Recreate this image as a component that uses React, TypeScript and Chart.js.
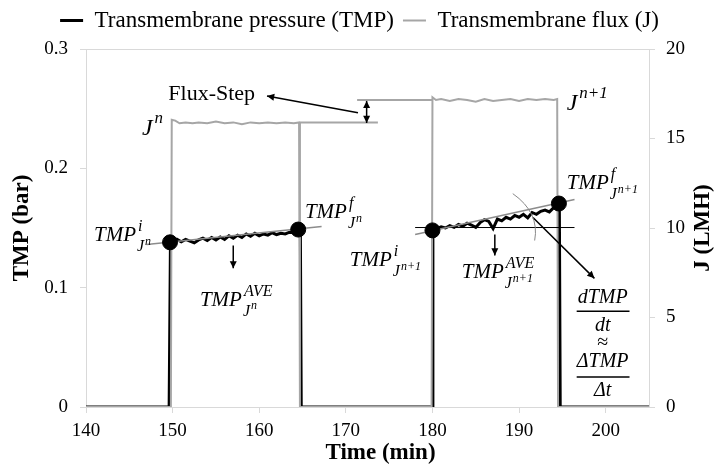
import React, { useEffect, useRef } from 'react';
import { Chart, registerables } from 'chart.js';

Chart.register(...registerables);

// ---------- data ----------
const xTickValues = [140, 150, 160, 170, 180, 190, 200];
const tmpTickValues = [0, 0.1, 0.2, 0.3];
const fluxTickValues = [0, 5, 10, 15, 20];

const tmpTime = [
  140, 149.6, 149.75,
  150.0, 150.5, 151.0, 151.5, 152.0, 152.5, 153.0, 153.5, 154.0, 154.5,
  155.0, 155.5, 156.0, 156.5, 157.0, 157.5, 158.0, 158.5, 159.0, 159.5,
  160.0, 160.5, 161.0, 161.5, 162.0, 162.5, 163.0, 163.5, 164.0, 164.5,
  164.75, 164.85,
  179.95, 180.05,
  180.5, 181.0, 181.5, 182.0, 182.5, 183.0, 183.5, 184.0, 184.5, 185.0,
  185.5, 186.0, 186.5, 187.0, 187.5, 188.0, 188.5, 189.0, 189.5, 190.0,
  190.5, 191.0, 191.5, 192.0, 192.5, 193.0, 193.5, 194.0, 194.5,
  194.65, 194.75, 205,
];
const tmpValues = [
  0, 0, 0.1385,
  0.138, 0.1405, 0.1385, 0.1405, 0.139, 0.1375, 0.14, 0.1415, 0.1395, 0.142,
  0.14, 0.1425, 0.1405, 0.1435, 0.1415, 0.144, 0.142, 0.145, 0.143, 0.1455,
  0.1435, 0.145, 0.144, 0.146, 0.1445, 0.1455, 0.145, 0.1465, 0.146, 0.1475,
  0.148, 0,
  0, 0.148,
  0.1495, 0.151, 0.15, 0.152, 0.1505, 0.153, 0.1515, 0.154, 0.1525, 0.1505,
  0.1545, 0.157, 0.1555, 0.1495, 0.1575, 0.156, 0.159, 0.1575, 0.1605, 0.159,
  0.1615, 0.1585, 0.163, 0.1615, 0.164, 0.165, 0.1635, 0.167, 0.17,
  0.1705, 0, 0,
];

const fluxTime = [
  140, 149.8, 149.9, 150.3, 150.8, 151.5, 152.3, 153.0, 154.0, 155.0, 156.0,
  157.0, 158.0, 159.0, 160.0, 161.0, 162.0, 163.0, 164.0, 164.6, 164.7,
  179.9, 180.0, 180.4, 181.0, 182.0, 183.0, 184.0, 185.0, 186.0, 187.0,
  188.0, 189.0, 190.0, 191.0, 192.0, 193.0, 194.0, 194.4, 194.5, 205,
];
const fluxValues = [
  0, 0, 16.05, 16.0, 15.85, 15.9, 15.85, 15.9, 15.85, 15.95, 15.85,
  15.9, 15.8, 15.9, 15.85, 15.9, 15.85, 15.9, 15.85, 15.9, 0,
  0, 17.3, 17.15, 17.2, 17.1, 17.2, 17.15, 17.05, 17.2, 17.1,
  17.15, 17.2, 17.1, 17.2, 17.15, 17.2, 17.15, 17.2, 0, 0,
];

const markerTime = [149.7, 164.5, 180.0, 194.6];
const markerTmp = [0.138, 0.1487, 0.148, 0.1705];

const trend1Time = [147.0, 167.2];
const trend1Tmp = [0.1362, 0.1512];
const trend2Time = [178.0, 196.4];
const trend2Tmp = [0.1446, 0.1738];
const levelTime = [178.0, 196.4];
const levelTmp = [0.1504, 0.1504];
const fluxRef1Time = [164.7, 173.7];
const fluxRef1 = [15.9, 15.9];
const fluxRef2Time = [171.3, 180.0];
const fluxRef2 = [17.15, 17.15];

// annotation anchors (x in min, y in bar)
const tmpLabels = [
  { x: 140.92, y: 0.1437, sup: 'i', subSup: 'n' },
  { x: 165.27, y: 0.1629, sup: 'f', subSup: 'n' },
  { x: 153.15, y: 0.0894, sup: 'AVE', subSup: 'n' },
  { x: 170.46, y: 0.1228, sup: 'i', subSup: 'n+1' },
  { x: 183.38, y: 0.1128, sup: 'AVE', subSup: 'n+1' },
  { x: 195.5, y: 0.1872, sup: 'f', subSup: 'n+1' },
];
const jLabels = [
  { x: 146.46, y: 0.2331, sup: 'n' },
  { x: 195.5, y: 0.254, sup: 'n+1' },
];

const SERIF = '"Liberation Serif", "Times New Roman", serif';
const AXIS = '#d9d9d9';

const pts = (xs: number[], ys: number[]) => xs.map((x, i) => ({ x, y: ys[i] }));

function arrowHead(ctx: CanvasRenderingContext2D, x1: number, y1: number, x2: number, y2: number, size: number) {
  const a = Math.atan2(y2 - y1, x2 - x1);
  ctx.beginPath();
  ctx.moveTo(x2, y2);
  ctx.lineTo(x2 - size * Math.cos(a - 0.45), y2 - size * Math.sin(a - 0.45));
  ctx.lineTo(x2 - size * Math.cos(a + 0.45), y2 - size * Math.sin(a + 0.45));
  ctx.closePath();
  ctx.fill();
}

function arrow(ctx: CanvasRenderingContext2D, x1: number, y1: number, x2: number, y2: number, both = false) {
  ctx.beginPath();
  ctx.moveTo(x1, y1);
  ctx.lineTo(x2, y2);
  ctx.stroke();
  arrowHead(ctx, x1, y1, x2, y2, 8);
  if (both) arrowHead(ctx, x2, y2, x1, y1, 8);
}

const annotationPlugin = {
  id: 'annotations',
  afterDatasetsDraw(chart: any) {
    const ctx: CanvasRenderingContext2D = chart.ctx;
    const xs = chart.scales.x;
    const ys = chart.scales.y;
    const X = (v: number) => xs.getPixelForValue(v);
    const Y = (v: number) => ys.getPixelForValue(v);
    ctx.save();
    ctx.fillStyle = '#000';
    ctx.strokeStyle = '#000';
    ctx.lineWidth = 1.5;
    ctx.textBaseline = 'middle';
    ctx.textAlign = 'left';

    // Flux-Step
    ctx.font = `22px ${SERIF}`;
    ctx.fillText('Flux-Step', X(149.5), Y(0.2624));
    arrow(ctx, X(171.4), Y(0.2465), X(160.9), Y(0.2607));
    arrow(ctx, X(172.4), Y(0.2565), X(172.4), Y(0.238), true);

    // down arrows
    arrow(ctx, X(157.0), Y(0.1354), X(157.0), Y(0.1162));
    arrow(ctx, X(187.2), Y(0.1446), X(187.2), Y(0.127));
    // slope arrow
    arrow(ctx, X(191.6), Y(0.1588), X(198.7), Y(0.1078));

    // arc
    ctx.strokeStyle = '#888';
    ctx.lineWidth = 1;
    ctx.beginPath();
    ctx.moveTo(X(189.27), Y(0.1788));
    ctx.quadraticCurveTo(X(192.4), Y(0.1629), X(191.8), Y(0.1395));
    ctx.stroke();
    ctx.strokeStyle = '#000';

    // J labels
    jLabels.forEach((l) => {
      const px = X(l.x), py = Y(l.y);
      ctx.font = `italic 24px ${SERIF}`;
      ctx.fillText('J', px, py);
      const w = ctx.measureText('J').width;
      ctx.font = `italic 17px ${SERIF}`;
      ctx.fillText(l.sup, px + w + 2, py - 10);
    });

    // TMP labels
    tmpLabels.forEach((l) => {
      const px = X(l.x), py = Y(l.y);
      ctx.font = `italic 21px ${SERIF}`;
      ctx.fillText('TMP', px, py);
      const w = ctx.measureText('TMP').width;
      ctx.font = `italic 16px ${SERIF}`;
      ctx.fillText(l.sup, px + w + 2, py - 9);
      ctx.fillText('J', px + w + 1, py + 11);
      const wj = ctx.measureText('J').width;
      ctx.font = `italic 12px ${SERIF}`;
      ctx.fillText(l.subSup, px + w + wj + 2, py + 6);
    });

    // fraction
    const cx = X(199.65);
    ctx.textAlign = 'center';
    ctx.font = `italic 20px ${SERIF}`;
    ctx.fillText('dTMP', cx, Y(0.0919));
    ctx.fillText('dt', cx, Y(0.0677));
    ctx.fillText('\u0394TMP', cx, Y(0.0376));
    ctx.fillText('\u0394t', cx, Y(0.0134));
    ctx.font = `20px ${SERIF}`;
    ctx.fillText('\u2248', cx, Y(0.0535));
    ctx.lineWidth = 1.5;
    [0.0802, 0.0251].forEach((v) => {
      ctx.beginPath();
      ctx.moveTo(X(196.65), Y(v));
      ctx.lineTo(X(202.75), Y(v));
      ctx.stroke();
    });

    ctx.restore();
  },
  afterDraw(chart: any) {
    const ctx: CanvasRenderingContext2D = chart.ctx;
    const a = chart.chartArea;
    ctx.save();
    ctx.font = `bold 23px ${SERIF}`;
    ctx.fillStyle = '#000';
    ctx.textAlign = 'center';
    ctx.textBaseline = 'middle';
    // x-axis title (offset to the right as in the reference)
    ctx.fillText('Time (min)', (a.left + a.right) / 2 + 13, 453);
    // right axis title, reading bottom to top
    ctx.translate(703, (a.top + a.bottom) / 2);
    ctx.rotate(-Math.PI / 2);
    ctx.fillText('J (LMH)', 0, 0);
    ctx.restore();
  },
};

export default function App() {
  const ref = useRef<HTMLCanvasElement>(null);

  useEffect(() => {
    document.body.style.margin = '0';
    const canvas = ref.current;
    if (!canvas) return;
    const gridOpts = { drawOnChartArea: false, drawTicks: true, tickLength: 6, color: AXIS };
    const chart = new Chart(canvas, {
      type: 'line',
      data: {
        datasets: [
          {
            label: 'Transmembrane pressure (TMP)',
            data: pts(tmpTime, tmpValues),
            borderColor: '#000',
            backgroundColor: '#000',
            borderWidth: 3,
            pointRadius: 0,
            yAxisID: 'y',
            order: 5,
          },
          {
            label: 'Transmembrane flux (J)',
            data: pts(fluxTime, fluxValues),
            borderColor: '#a6a6a6',
            backgroundColor: '#a6a6a6',
            borderWidth: 2,
            pointRadius: 0,
            yAxisID: 'y2',
            order: 4,
          },
          {
            label: 'flux ref n',
            data: pts(fluxRef1Time, fluxRef1),
            borderColor: '#a6a6a6',
            borderWidth: 2,
            pointRadius: 0,
            yAxisID: 'y2',
            order: 4,
          },
          {
            label: 'flux ref n+1',
            data: pts(fluxRef2Time, fluxRef2),
            borderColor: '#a6a6a6',
            borderWidth: 2,
            pointRadius: 0,
            yAxisID: 'y2',
            order: 4,
          },
          {
            label: 'trend n',
            data: pts(trend1Time, trend1Tmp),
            borderColor: '#8c8c8c',
            borderWidth: 1.5,
            pointRadius: 0,
            yAxisID: 'y',
            order: 3,
          },
          {
            label: 'trend n+1',
            data: pts(trend2Time, trend2Tmp),
            borderColor: '#8c8c8c',
            borderWidth: 1.5,
            pointRadius: 0,
            yAxisID: 'y',
            order: 3,
          },
          {
            label: 'level',
            data: pts(levelTime, levelTmp),
            borderColor: '#000',
            borderWidth: 1,
            pointRadius: 0,
            yAxisID: 'y',
            order: 3,
          },
          {
            label: 'markers',
            data: pts(markerTime, markerTmp),
            showLine: false,
            pointRadius: 7.5,
            pointBackgroundColor: '#000',
            pointBorderColor: '#000',
            yAxisID: 'y',
            order: 0,
          },
        ],
      },
      options: {
        animation: false,
        responsive: true,
        maintainAspectRatio: false,
        devicePixelRatio: 1,
        layout: { padding: 0 },
        plugins: {
          tooltip: { enabled: false },
          legend: {
            display: true,
            position: 'top',
            labels: {
              usePointStyle: true,
              pointStyle: 'line',
              pointStyleWidth: 23,
              padding: 9,
              color: '#000',
              font: { family: SERIF, size: 23 },
              filter: (item: any) => item.datasetIndex < 2,
              sort: (a: any, b: any) => a.datasetIndex - b.datasetIndex,
            },
          },
        },
        scales: {
          x: {
            type: 'linear',
            position: 'bottom',
            min: 140,
            max: 205,
            afterBuildTicks: (s: any) => {
              s.ticks = xTickValues.map((v) => ({ value: v }));
            },
            afterFit: (s: any) => {
              s.height = 63;
            },
            ticks: { color: '#000', font: { family: SERIF, size: 19 }, padding: 7 },
            grid: gridOpts,
            border: { color: AXIS },
            title: { display: false },
          },
          xTop: {
            type: 'linear',
            position: 'top',
            display: true,
            afterFit: (s: any) => {
              s.height = 7;
            },
            ticks: { display: false },
            grid: { drawOnChartArea: false, drawTicks: false, color: AXIS },
            border: { color: AXIS },
          },
          y: {
            type: 'linear',
            position: 'left',
            min: 0,
            max: 0.3,
            afterBuildTicks: (s: any) => {
              s.ticks = tmpTickValues.map((v) => ({ value: v }));
            },
            afterFit: (s: any) => {
              s.width = 86;
            },
            ticks: {
              color: '#000',
              font: { family: SERIF, size: 19 },
              padding: 12,
              callback: (v: any) => String(Math.round(Number(v) * 10) / 10),
            },
            grid: gridOpts,
            border: { color: AXIS },
            title: {
              display: true,
              text: 'TMP (bar)',
              color: '#000',
              font: { family: SERIF, size: 23, weight: 'bold' },
              padding: { top: 8, bottom: 0 },
            },
          },
          y2: {
            type: 'linear',
            position: 'right',
            min: 0,
            max: 20,
            afterBuildTicks: (s: any) => {
              s.ticks = fluxTickValues.map((v) => ({ value: v }));
            },
            afterFit: (s: any) => {
              s.width = 70;
            },
            ticks: { color: '#000', font: { family: SERIF, size: 19 }, padding: 11 },
            grid: gridOpts,
            border: { color: AXIS },
            title: { display: false },
          },
        },
      },
      plugins: [annotationPlugin],
    } as any);
    return () => chart.destroy();
  }, []);

  return (
    <div style={{ position: 'fixed', left: 0, top: 0, width: 719, height: 470, background: '#fff' }}>
      <canvas ref={ref} />
    </div>
  );
}
